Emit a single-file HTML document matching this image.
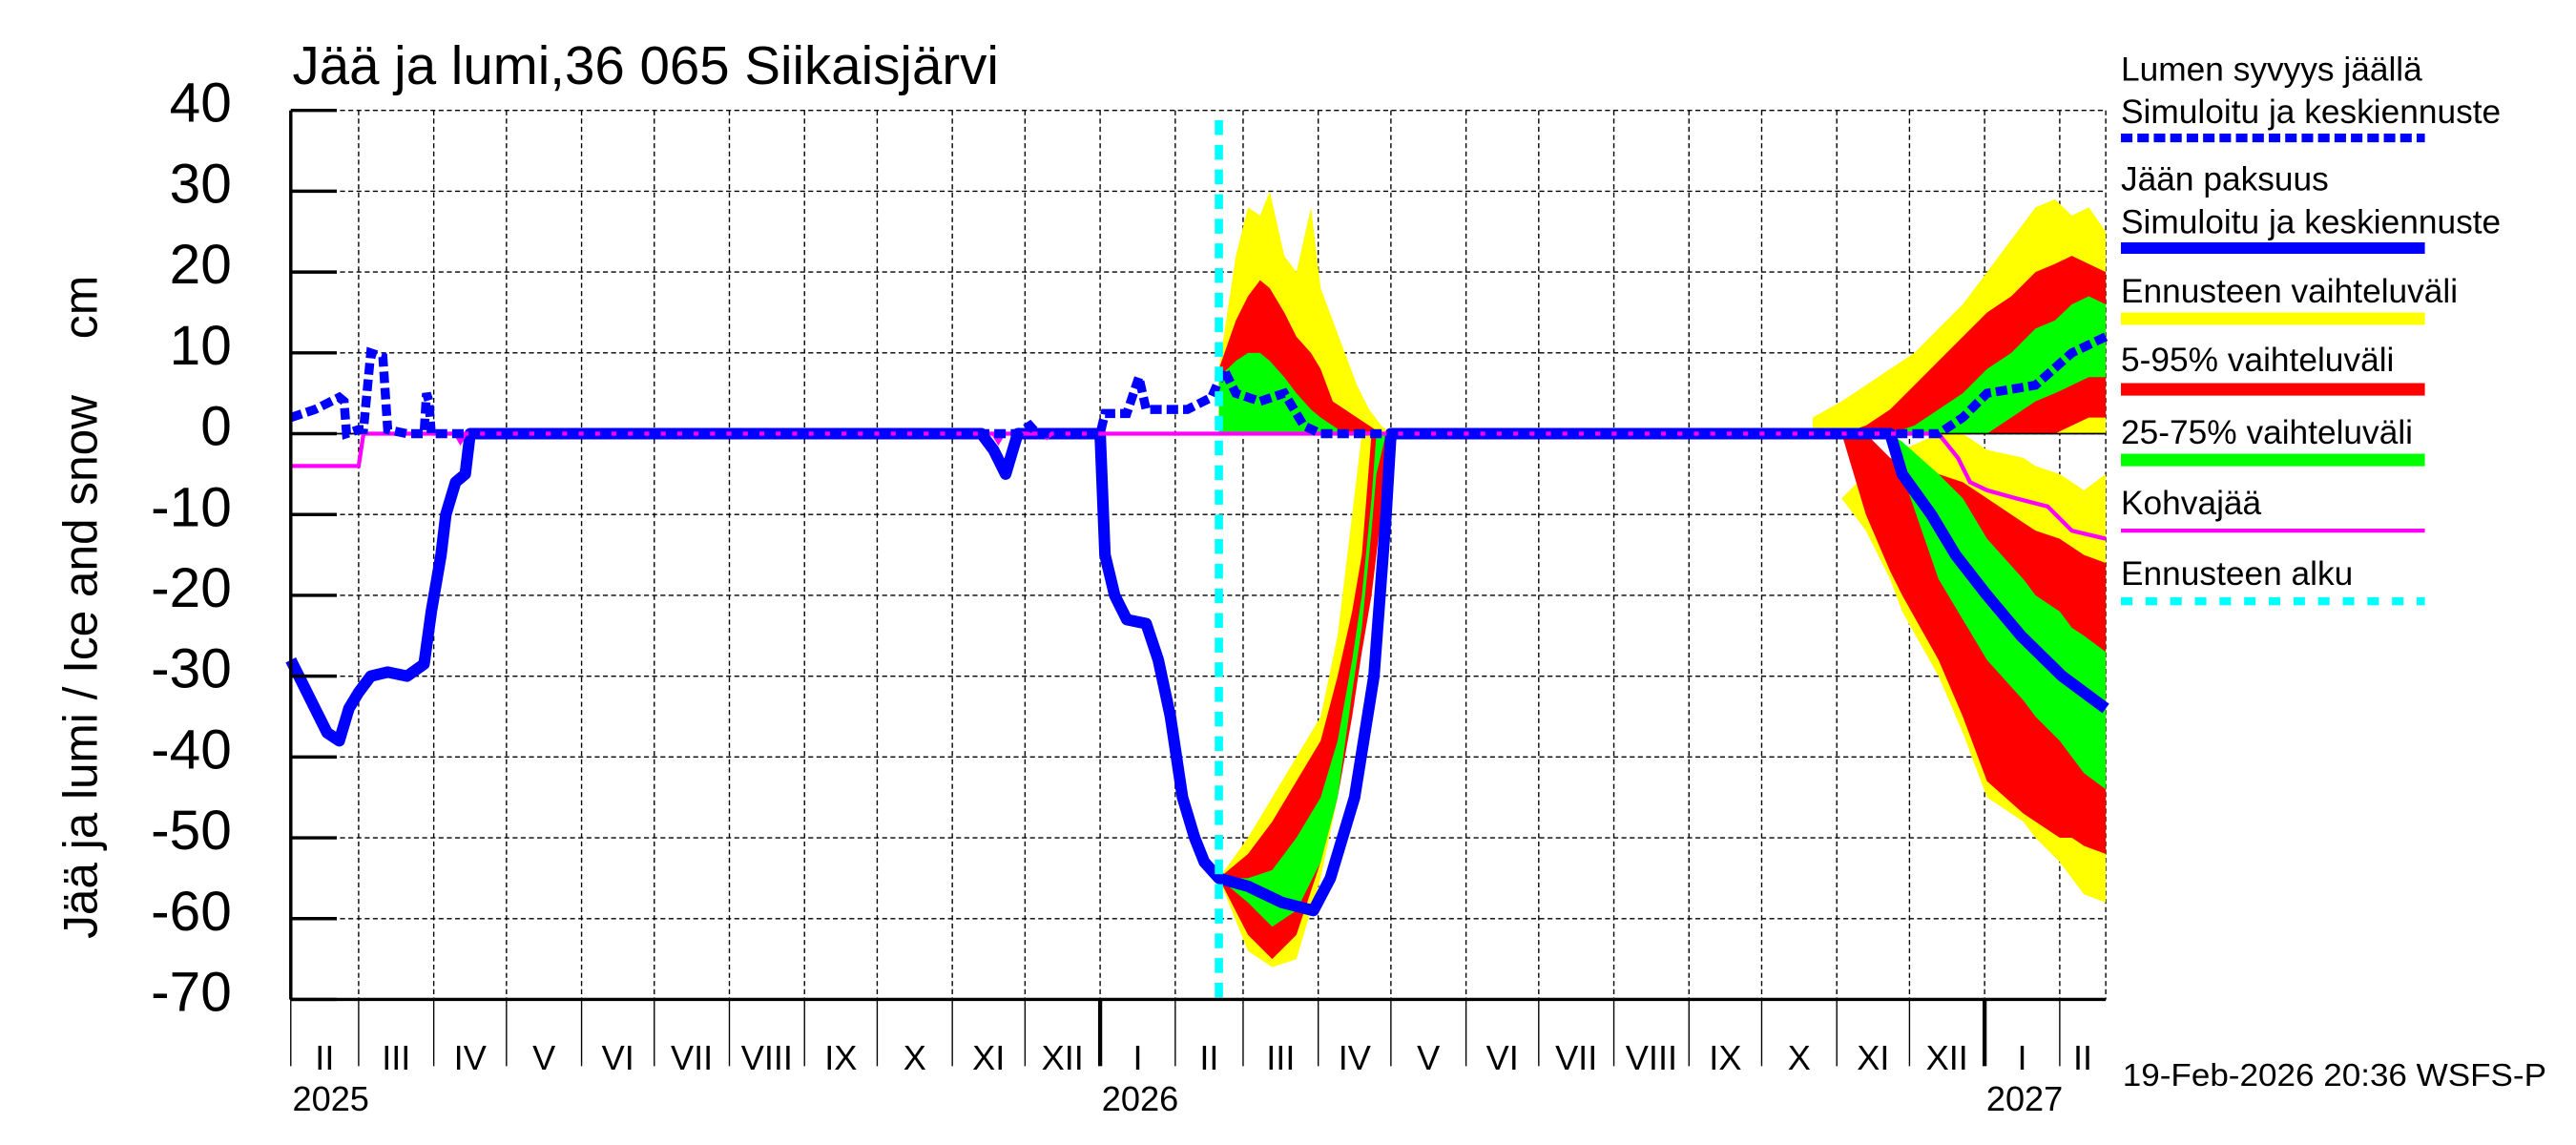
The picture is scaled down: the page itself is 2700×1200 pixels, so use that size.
<!DOCTYPE html>
<html><head><meta charset="utf-8"><style>
html,body{margin:0;padding:0;background:#fff;}
svg{display:block;font-family:"Liberation Sans",sans-serif;}
</style></head><body>
<svg id="chart" width="2700" height="1200" viewBox="0 0 1568 697" preserveAspectRatio="none" xmlns="http://www.w3.org/2000/svg">
<rect width="1568" height="697" fill="#fff"/>
<text x="178" y="51" font-size="33" textLength="430" lengthAdjust="spacingAndGlyphs">Jää ja lumi,36 065 Siikaisjärvi</text>
<text transform="translate(59,406) rotate(-90)" text-anchor="middle" font-size="29" textLength="331" lengthAdjust="spacingAndGlyphs">Jää ja lumi / Ice and snow</text>
<text transform="translate(59,187) rotate(-90)" text-anchor="middle" font-size="29">cm</text>
<g id="grid"></g>
<g id="bands"></g>
<g id="lines"></g>
<g id="axes"></g>
<g id="legend"></g>
<text x="1292" y="661" font-size="19.5" textLength="258" lengthAdjust="spacingAndGlyphs">19-Feb-2026 20:36 WSFS-P</text>
</svg>
<script>
// ---- data (x = day index from 1 Feb 2025, y = cm) ----
const monthStarts = [0,28,59,89,120,150,181,212,242,273,303,334,365,393,424,454,485,515,546,577,607,638,668,699,730,749];
const monthLabels = ["II","III","IV","V","VI","VII","VIII","IX","X","XI","XII","I","II","III","IV","V","VI","VII","VIII","IX","X","XI","XII","I","II"];
const yearStarts = [0,334,699];
const yearLabels = ["2025","2026","2027"];
const yTicks = [40,30,20,10,0,-10,-20,-30,-40,-50,-60,-70];
const forecastStart = 383;

const iceDays = [0,5,10,15,20,24,28,33,40,48,55,58,62,64,68,72,74,285,290,295,297,300,334,336,340,345,353,358,363,368,373,377,383,395,409,422,429,439,447,452,454,660,665,677,687,700,714,731,749];
const iceVals = [-28,-31,-34,-37,-38,-34,-32,-30,-29.5,-30,-28.5,-22,-15,-10,-6,-5,0,0,-2,-5,-3,0,0,-15,-20,-23,-23.5,-28,-35,-45,-50,-53,-55,-56,-58,-59,-55,-45,-30,-10,0,0,-5,-10,-15,-20,-25,-30,-34];

const snowDays = [0,10,20,22,23,28,30,33,38,40,48,55,56,57,58,300,305,308,334,336,345,350,353,370,380,385,390,400,410,418,425,680,690,700,720,735,749];
const snowVals = [2,3,4.5,4,0,0.5,0.5,10,9.5,0.5,0,0,5,4,0,0,1,0,0,2.5,2.5,7,3,3,4.5,8,5,4,5,1,0,0,2,5,6,10,12];

const kohvaDays = [0,28,30,68,70,72,290,292,294,310,312,314,680,688,693,700,712,725,735,749];
const kohvaVals = [-4,-4,0,0,-1,0,0,-1,0,0,-0.5,0,0,-3,-6,-7,-8,-9,-12,-13];

// snow bands, spring
const sSpringDays = [383,390,395,400,404,410,415,421,425,430,435,440,445,450,454];
const sSpringYellow = [8,22,28,27,30,22,20,28,18,14,10,6,3,1,0];
const sSpringRed = [8,14,17,19,18,15,12,10,8,4,3,2,1,0,0];
const sSpringGreen = [7,9,10,10,9,7,5,3,2,1,0,0,0,0,0];
// snow bands, autumn
const sAutDays = [628,640,650,660,670,680,690,700,710,720,728,735,742,749];
const sAutYellow = [2,4,6,8,10,13,16,20,24,28,29,27,28,25];
const sAutRed = [0,0,1,3,6,9,12,15,17,20,21,22,21,20];
const sAutGreen = [0,0,0,0,1,3,5,8,10,13,14,16,17,16];
const sAutGreenLow = [0,0,0,0,0,0,0,0,2,4,5,6,7,7];
const sAutRedLow = [0,0,0,0,0,0,0,0,0,0,0,1,2,2];

// ice bands, spring
const iSpringDays = [383,395,405,415,425,432,438,442,446,448,452,455,457,460];
const iSpringYellowUp = [-55,-50,-45,-40,-35,-25,-10,0,0,0,0,0,0,0];
const iSpringYellowLow = [-55,-64,-66,-65,-55,-45,-33,-25,-15,-10,-5,-2,0,0];
const iSpringRedUp = [-55,-52,-48,-43,-38,-30,-22,-15,0,0,0,0,0,0];
const iSpringRedLow = [-55,-62,-65,-62,-53,-45,-35,-27,-20,-15,-5,-2,0,0];
const iSpringGreenUp = [-55,-55,-54,-50,-45,-38,-28,-20,-8,0,0,0,0,0];
const iSpringGreenLow = [-55,-58,-61,-59,-53,-45,-32,-24,-12,-5,0,0,0,0];
// ice bands, autumn
const iAutDays = [628,640,650,660,665,680,690,700,715,720,730,735,740,749];
const iAutYellowUp = [0,-8,-5,-3,-2,0,0,-2,-3,-4,-5,-6,-7,-5];
const iAutYellowLow = [0,-8,-12,-18,-22,-30,-37,-45,-48,-50,-53,-55,-57,-58];
const iAutRedUp = [0,0,0,-3,-4,-5,-6,-8,-11,-12,-13,-14,-15,-16];
const iAutRedLow = [0,0,-10,-17,-20,-28,-35,-43,-47,-48,-50,-50,-51,-52];
const iAutGreenUp = [0,0,0,0,-1,-5,-8,-13,-18,-20,-22,-24,-25,-27];
const iAutGreenLow = [0,0,0,0,-5,-18,-23,-28,-33,-35,-38,-40,-42,-44];

// ---- scales ----
const xs = d => 177 + d * 1.475;
const ys = v => 264 - v * 4.92;
const NS = "http://www.w3.org/2000/svg";
function mk(tag, attrs, parent) {
  const e = document.createElementNS(NS, tag);
  for (const k in attrs) e.setAttribute(k, attrs[k]);
  parent.appendChild(e);
  return e;
}
const grid = document.getElementById('grid');
const bands = document.getElementById('bands');
const lines = document.getElementById('lines');
const axes = document.getElementById('axes');
const legend = document.getElementById('legend');

// grid
yTicks.forEach(t => {
  if (t === -70) return;
  const l = mk('line', {x1: xs(0), x2: xs(749), y1: ys(t), y2: ys(t), stroke: '#000', 'stroke-width': 0.8, 'stroke-dasharray': '3,2'}, grid);
  
  
});
monthStarts.forEach(d => {
  if (d === 0) return;
  const l = mk('line', {x1: xs(d), x2: xs(d), y1: ys(40), y2: ys(-70), stroke: '#000', 'stroke-width': 0.8, 'stroke-dasharray': '3,2'}, grid);
  
  
});

// bands
function band(days, up, low, color, name) {
  let pts = days.map((d, i) => xs(d) + ',' + ys(up[i]));
  for (let i = days.length - 1; i >= 0; i--) pts.push(xs(days[i]) + ',' + ys(low ? low[i] : 0));
  const p = mk('polygon', {points: pts.join(' '), fill: color}, bands);
  
  
}
band(sSpringDays, sSpringYellow, null, '#ffff00', 'snow-band-range-spring');
band(sSpringDays, sSpringRed, null, '#ff0000', 'snow-band-5-95-spring');
band(sSpringDays, sSpringGreen, null, '#00ff00', 'snow-band-25-75-spring');
band(sAutDays, sAutYellow, null, '#ffff00', 'snow-band-range-autumn');
band(sAutDays, sAutRed, sAutRedLow, '#ff0000', 'snow-band-5-95-autumn');
band(sAutDays, sAutGreen, sAutGreenLow, '#00ff00', 'snow-band-25-75-autumn');
band(iSpringDays, iSpringYellowUp, iSpringYellowLow, '#ffff00', 'ice-band-range-spring');
band(iSpringDays, iSpringRedUp, iSpringRedLow, '#ff0000', 'ice-band-5-95-spring');
band(iSpringDays, iSpringGreenUp, iSpringGreenLow, '#00ff00', 'ice-band-25-75-spring');
band(iAutDays, iAutYellowUp, iAutYellowLow, '#ffff00', 'ice-band-range-autumn');
band(iAutDays, iAutRedUp, iAutRedLow, '#ff0000', 'ice-band-5-95-autumn');
band(iAutDays, iAutGreenUp, iAutGreenLow, '#00ff00', 'ice-band-25-75-autumn');

// zero line
const z = mk('line', {x1: xs(0), x2: xs(749), y1: ys(0), y2: ys(0), stroke: '#000', 'stroke-width': 1}, lines);



function line(days, vals, attrs, name) {
  const d = days.map((x, i) => (i ? 'L' : 'M') + xs(x) + ',' + ys(vals[i])).join(' ');
  const p = mk('path', Object.assign({d: d, fill: 'none'}, attrs), lines);
  
  
}
line(iceDays, iceVals, {stroke: '#0000ff', 'stroke-width': 7, 'stroke-linejoin': 'round'}, 'ice-thickness-line');
line(kohvaDays, kohvaVals, {stroke: '#ff00ff', 'stroke-width': 2.5}, 'slush-ice-line');
line(snowDays, snowVals, {stroke: '#0000ff', 'stroke-width': 5.5, 'stroke-dasharray': '7,3'}, 'snow-depth-line');

// forecast start
const fs = mk('line', {x1: xs(forecastStart), x2: xs(forecastStart), y1: ys(40) + 6, y2: ys(-70), stroke: '#00ffff', 'stroke-width': 5, 'stroke-dasharray': '9,6'}, lines);



// axes
const la = mk('line', {x1: 177, x2: 177, y1: ys(40), y2: ys(-70), stroke: '#000', 'stroke-width': 2}, axes);


const ba = mk('line', {x1: 177, x2: xs(749), y1: ys(-70), y2: ys(-70), stroke: '#000', 'stroke-width': 2}, axes);


yTicks.forEach(t => {
  const tk = mk('line', {x1: 177, x2: 205, y1: ys(t), y2: ys(t), stroke: '#000', 'stroke-width': 2}, axes);
  
  
  const tx = mk('text', {x: 141, y: ys(t) + 7, 'text-anchor': 'end', 'font-size': 34}, axes);
  tx.textContent = t;
  
  
});
monthStarts.forEach((d, i) => {
  if (d !== 749) {
    const isYear = yearStarts.includes(d) && d !== 0;
    const tk = mk('line', {x1: xs(d), x2: xs(d), y1: ys(-70), y2: 649, stroke: '#000', 'stroke-width': isYear ? 2.5 : 0.8}, axes);
    
    
  }
  if (i < monthLabels.length) {
    const mid = (xs(d) + xs(monthStarts[i + 1])) / 2;
    const tx = mk('text', {x: mid, y: 651, 'text-anchor': 'middle', 'font-size': 21}, axes);
    tx.textContent = monthLabels[i];
    
    
  }
});
yearStarts.forEach((d, i) => {
  const tx = mk('text', {x: xs(d) + 1, y: 676, 'font-size': 21}, axes);
  tx.textContent = yearLabels[i];
  
  
});

// legend
const legendItems = [
  {t: ['Lumen syvyys jäällä', 'Simuloitu ja keskiennuste'], y: 49, ly: 84, c: '#0000ff', w: 5.3, dash: '7,3', n: 'legend-snow'},
  {t: ['Jään paksuus', 'Simuloitu ja keskiennuste'], y: 116, ly: 151, c: '#0000ff', w: 7, dash: null, n: 'legend-ice'},
  {t: ['Ennusteen vaihteluväli'], y: 184, ly: 194, c: '#ffff00', w: 7.6, dash: null, n: 'legend-range'},
  {t: ['5-95% vaihteluväli'], y: 226, ly: 237, c: '#ff0000', w: 7.6, dash: null, n: 'legend-5-95'},
  {t: ['25-75% vaihteluväli'], y: 270, ly: 280, c: '#00ff00', w: 7.6, dash: null, n: 'legend-25-75'},
  {t: ['Kohvajää'], y: 313, ly: 323, c: '#ff00ff', w: 2.5, dash: null, n: 'legend-slush'},
  {t: ['Ennusteen alku'], y: 356, ly: 366, c: '#00ffff', w: 5, dash: '7,8', n: 'legend-forecast-start'}
];
legendItems.forEach(it => {
  it.t.forEach((s, k) => {
    const tx = mk('text', {x: 1291, y: it.y + k * 26, 'font-size': 20.5}, legend);
    tx.textContent = s;
    
    
  });
  const a = {x1: 1291, x2: 1476, y1: it.ly, y2: it.ly, stroke: it.c, 'stroke-width': it.w};
  if (it.dash) a['stroke-dasharray'] = it.dash;
  const l = mk('line', a, legend);
  
  
});
</script>
</body></html>
